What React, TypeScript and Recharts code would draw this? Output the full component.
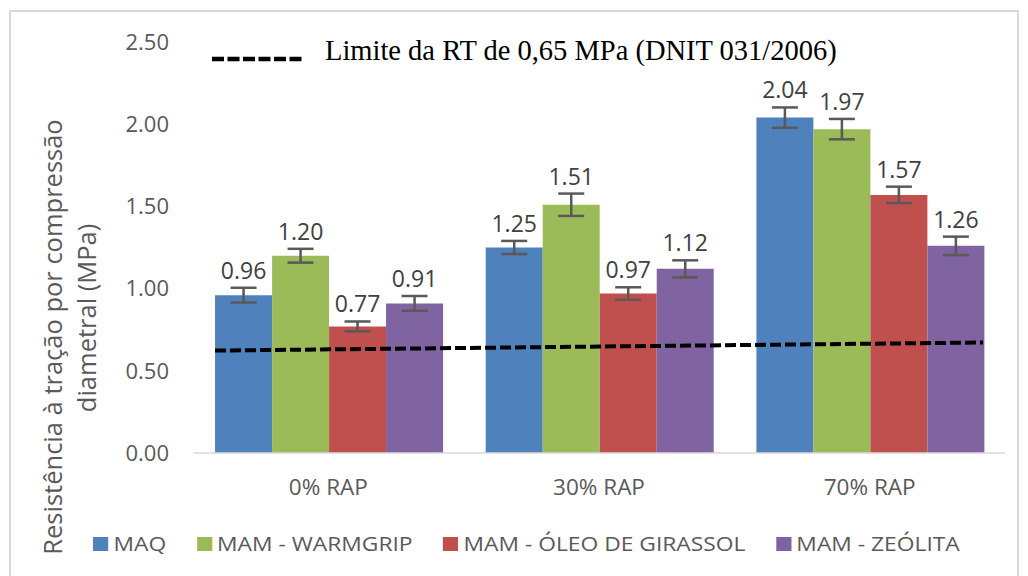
import React from "react";
import {
  ComposedChart,
  Bar,
  XAxis,
  YAxis,
  ErrorBar,
  LabelList,
  ReferenceLine,
} from "recharts";

const categories = ["0% RAP", "30% RAP", "70% RAP"];
const seriesNames = ["MAQ", "MAM - WARMGRIP", "MAM - ÓLEO DE GIRASSOL", "MAM - ZEÓLITA"];
const seriesColors = ["#4F81BD", "#9BBB59", "#C0504D", "#8064A2"];
const maq = [0.96, 1.25, 2.04];
const warmgrip = [1.2, 1.51, 1.97];
const oleo = [0.77, 0.97, 1.57];
const zeolita = [0.91, 1.12, 1.26];
const maqErr = [0.045, 0.04, 0.062];
const warmgripErr = [0.042, 0.068, 0.062];
const oleoErr = [0.03, 0.038, 0.05];
const zeolitaErr = [0.045, 0.052, 0.056];
const yTicks = [0, 0.5, 1.0, 1.5, 2.0, 2.5];
const limitStart = 0.623;
const limitEnd = 0.672;
const limitLabel = "Limite da RT de 0,65 MPa (DNIT 031/2006)";
const yLabelLines = ["Resistência  à tração por compressão", "diametral (MPa)"];

const values = [maq, warmgrip, oleo, zeolita];
const errors = [maqErr, warmgripErr, oleoErr, zeolitaErr];

const data = categories.map((c, i) => {
  const row: any = { cat: c, pos: i + 0.5 };
  values.forEach((v, s) => {
    row["s" + s] = v[i];
    row["e" + s] = errors[s][i];
  });
  return row;
});

const FONT = "'Open Sans', sans-serif";

const makeLabel = (s: number) => (props: any) => {
  const { x, y, width, height, value, index } = props;
  const pxPerUnit = height / value;
  const errPx = errors[s][index] * pxPerUnit;
  return (
    <text
      x={x + width / 2}
      y={y - errPx - 9}
      textAnchor="middle"
      fontFamily={FONT}
      fontSize={23}
      fill="#404040"
    >
      {value.toFixed(2)}
    </text>
  );
};

const YLabel = () => (
  <g>
    <text
      transform="translate(62,337) rotate(-90)"
      textAnchor="middle"
      fontFamily={FONT}
      fontSize={25.5}
      fill="#595959"
    >
      {yLabelLines[0]}
    </text>
    <text
      transform="translate(96,318) rotate(-90)"
      textAnchor="middle"
      fontFamily={FONT}
      fontSize={25.5}
      fill="#595959"
    >
      {yLabelLines[1]}
    </text>
  </g>
);

export default function App() {
  return (
    <div style={{ position: "absolute", left: 0, top: 0, width: 1028, height: 576, background: "#fff" }}>
      <div
        style={{
          position: "absolute",
          left: 9,
          top: 10,
          width: 1010,
          height: 570,
          border: "2px solid #d9d9d9",
          boxSizing: "border-box",
        }}
      />
      <div style={{ position: "absolute", left: 0, top: 0 }}>
        <ComposedChart
          width={1028}
          height={576}
          data={data}
          margin={{ top: 42, right: 23, bottom: 93, left: 113 }}
          barCategoryGap="8.15%"
          barGap={0}
        >
          <XAxis
            dataKey="cat"
            xAxisId="cat"
            height={30}
            axisLine={{ stroke: "#d9d9d9", strokeWidth: 1.5 }}
            tickLine={false}
            tick={{ fontFamily: FONT, fontSize: 22.5, fill: "#595959" }}
            tickMargin={20}
          />
          <XAxis
            xAxisId="line"
            dataKey="pos"
            type="number"
            domain={[0, 3]}
            ticks={[0, 1, 2, 3]}
            allowDataOverflow
            hide
          />
          <YAxis
            width={80}
            domain={[0, 2.5]}
            ticks={yTicks}
            tickFormatter={(v: number) => v.toFixed(2)}
            axisLine={false}
            tickLine={false}
            tick={{ fontFamily: FONT, fontSize: 22, fill: "#595959" }}
            tickMargin={18}
            label={<YLabel />}
          />
          {values.map((_, s) => (
            <Bar
              key={s}
              xAxisId="cat"
              dataKey={"s" + s}
              name={seriesNames[s]}
              fill={seriesColors[s]}
              isAnimationActive={false}
            >
              <ErrorBar dataKey={"e" + s} width={13} stroke="#595959" strokeWidth={2.5} />
              <LabelList dataKey={"s" + s} content={makeLabel(s)} />
            </Bar>
          ))}
          <ReferenceLine
            xAxisId="line"
            segment={[
              { x: 0.0815, y: limitStart },
              { x: 2.9185, y: limitEnd },
            ]}
            stroke="#000"
            strokeWidth={4}
            strokeDasharray="11 4"
            ifOverflow="visible"
          />
        </ComposedChart>
      </div>
      <svg style={{ position: "absolute", left: 0, top: 0 }} width={1028} height={80}>
        <line x1={212} y1={59} x2={302} y2={59} stroke="#000" strokeWidth={4.5} strokeDasharray="12 3.5" />
        <text x={325} y={60} fontFamily="'Liberation Serif', 'Times New Roman', serif" fontSize={28.5} fill="#000">
          {limitLabel}
        </text>
      </svg>
      <div
        style={{
          position: "absolute",
          left: 93,
          top: 530,
          display: "flex",
          alignItems: "center",
          fontFamily: FONT,
          fontSize: 19.5,
          color: "#595959",
          whiteSpace: "nowrap",
          transform: "scaleX(1.17)",
          transformOrigin: "0 50%",
        }}
      >
        {seriesNames.map((n, i) => (
          <div key={n} style={{ display: "flex", alignItems: "center", marginRight: 26 }}>
            <span style={{ display: "inline-block", width: 13, height: 14, background: seriesColors[i], marginRight: 4.5 }} />
            <span>{n}</span>
          </div>
        ))}
      </div>
    </div>
  );
}
